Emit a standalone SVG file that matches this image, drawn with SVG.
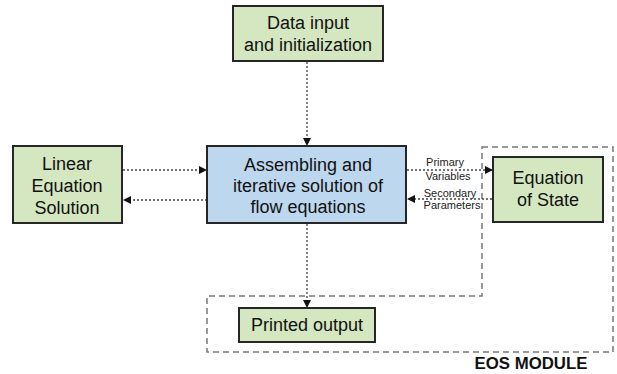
<svg xmlns="http://www.w3.org/2000/svg" width="617" height="374" viewBox="0 0 617 374">
<defs>
<style>
.box{stroke:#262626;stroke-width:2}
.g{fill:#d4e7c0}
.b{fill:#bdd7ee}
.t{font-family:"Liberation Sans",Arial,sans-serif;font-size:18px;fill:#111;text-anchor:middle}
.s{font-family:"Liberation Sans",Arial,sans-serif;font-size:11px;fill:#222;text-anchor:middle}
.c{stroke:#444;stroke-width:1.3;stroke-dasharray:2 2;fill:none}
.eos{stroke:#777;stroke-width:1.5;stroke-dasharray:6 4;fill:none}
</style>
<marker id="ah" markerWidth="8" markerHeight="8" refX="7" refY="4" orient="auto" markerUnits="userSpaceOnUse">
<path d="M0,0 L8,4 L0,8 Z" fill="#111"/>
</marker>
</defs>
<rect width="617" height="374" fill="#fff"/>
<g id="eos-module">
<path class="eos" d="M482,147 L613,147 L613,352 L207,352 L207,296 L482,296 Z"/>
<text x="531" y="369" font-family="Liberation Sans,Arial,sans-serif" font-size="16.8" font-weight="bold" fill="#111" text-anchor="middle">EOS MODULE</text>
</g>
<g id="connectors">
<line class="c" x1="307" y1="62" x2="307" y2="145" marker-end="url(#ah)"/>
<line class="c" x1="123" y1="170" x2="206" y2="170" marker-end="url(#ah)"/>
<line class="c" x1="207" y1="200" x2="124" y2="200" marker-end="url(#ah)"/>
<line class="c" x1="407" y1="170" x2="492" y2="170" marker-end="url(#ah)"/>
<line class="c" x1="492" y1="199" x2="408" y2="199" marker-end="url(#ah)"/>
<line class="c" x1="307" y1="224" x2="307" y2="307" marker-end="url(#ah)"/>
<text class="s" x="445" y="166">Primary</text>
<text class="s" x="448" y="180">Variables</text>
<text class="s" x="450" y="197">Secondary</text>
<text class="s" x="452" y="209">Parameters</text>
</g>
<g id="data-input">
<rect class="box g" x="233" y="6" width="150" height="55"/>
<text class="t" x="308" y="29">Data input</text>
<text class="t" x="308" y="51">and initialization</text>
</g>
<g id="assembling">
<rect class="box b" x="207" y="146" width="199" height="77"/>
<text class="t" x="308" y="171">Assembling and</text>
<text class="t" x="308" y="192">iterative solution of</text>
<text class="t" x="308" y="213">flow equations</text>
</g>
<g id="linear">
<rect class="box g" x="13" y="146" width="109" height="77"/>
<text class="t" x="67" y="170">Linear</text>
<text class="t" x="67" y="192">Equation</text>
<text class="t" x="67" y="214">Solution</text>
</g>
<g id="eos">
<rect class="box g" x="493" y="157" width="110" height="65"/>
<text class="t" x="548" y="184">Equation</text>
<text class="t" x="548" y="206">of State</text>
</g>
<g id="printed">
<rect class="box g" x="239" y="308" width="136" height="34"/>
<text class="t" x="307" y="331">Printed output</text>
</g>
</svg>
